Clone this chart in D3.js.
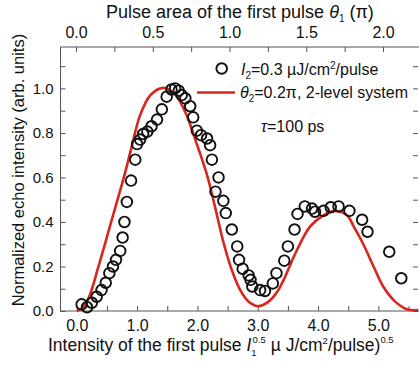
<!DOCTYPE html>
<html>
<head>
<meta charset="utf-8">
<script src="https://cdn.jsdelivr.net/npm/d3@7"></script>
<style>
  body { margin: 0; background: #fff; }
  svg { display: block; font-family: Arial, "Liberation Sans", sans-serif; }
  .ax path, .ax line { stroke: #555; }
  .ax text { fill: #111; }
</style>
</head>
<body>
<div id="chart"></div>
<script>
// measured echo intensity (circles)
var dataX = [0.08,0.17,0.25,0.33,0.41,0.48,0.54,0.60,0.65,0.72,0.76,0.79,0.83,0.90,0.97,1.00,1.05,1.10,1.17,1.24,1.33,1.41,1.49,1.57,1.63,1.69,1.74,1.80,1.88,1.93,1.99,2.06,2.16,2.21,2.24,2.30,2.35,2.43,2.47,2.57,2.66,2.69,2.75,2.85,2.88,2.91,3.04,3.12,3.25,3.31,3.44,3.50,3.61,3.66,3.78,3.90,3.95,4.09,4.21,4.34,4.52,4.73,4.82,5.18,5.38];
var dataY = [0.03,0.017,0.037,0.064,0.094,0.127,0.17,0.20,0.23,0.27,0.33,0.40,0.49,0.586,0.68,0.75,0.77,0.795,0.806,0.83,0.86,0.906,0.963,0.995,1.0,0.99,0.97,0.955,0.92,0.87,0.81,0.79,0.775,0.745,0.68,0.536,0.60,0.495,0.44,0.366,0.29,0.23,0.19,0.16,0.14,0.11,0.094,0.09,0.124,0.17,0.226,0.29,0.366,0.436,0.47,0.46,0.446,0.45,0.466,0.47,0.45,0.41,0.356,0.266,0.147];

// 2-level system calculation (red line)
var calcX = [0,0.1,0.2,0.36,0.57,0.78,0.89,1.05,1.22,1.38,1.49,1.66,1.82,1.99,2.16,2.29,2.43,2.57,2.71,2.85,3.01,3.18,3.32,3.43,3.65,3.87,4.09,4.28,4.48,4.59,4.75,4.92,5.08,5.28,5.47,5.66];
var calcY = [0,0.015,0.06,0.2,0.4,0.6,0.716,0.88,0.97,1.0,1.0,0.963,0.88,0.75,0.61,0.47,0.31,0.184,0.094,0.042,0.022,0.042,0.085,0.14,0.274,0.38,0.43,0.45,0.43,0.38,0.30,0.20,0.11,0.042,0.008,0.004];

var bottomTicks = [0,0.5,1,1.5,2,2.5,3,3.5,4,4.5,5,5.5];
var topTicks = [0,0.25,0.5,0.75,1,1.25,1.5,1.75,2];
var yTicks = [0,0.1,0.2,0.3,0.4,0.5,0.6,0.7,0.8,0.9,1.0,1.1];

var W = 419, H = 365;
var mLeft = 60.5, mRight = 420, mTop = 47, mBottom = 311;

var svg = d3.select('#chart').append('svg').attr('width', W).attr('height', H);

var x = d3.scaleLinear().domain([-0.27, 5.69]).range([mLeft, mRight]);
var xTop = d3.scaleLinear().domain([-0.101, 2.241]).range([mLeft, mRight]);
var y = d3.scaleLinear().domain([0, 1.186]).range([mBottom, mTop]);

// frame
svg.append('rect').attr('x', mLeft).attr('y', mTop).attr('width', mRight - mLeft).attr('height', mBottom - mTop)
  .attr('fill', 'none').attr('stroke', '#555').attr('stroke-width', 1);

// axes
svg.append('g').attr('class', 'ax').attr('transform', 'translate(0,' + mBottom + ')')
  .call(d3.axisBottom(x).tickValues(bottomTicks).tickSize(-5).tickPadding(9)
    .tickFormat(function(d){ return d % 1 == 0 ? d3.format('.1f')(d) : ''; }))
  .call(function(g){ g.select('.domain').remove(); g.selectAll('text').attr('font-size', 16).attr('dy', '0.71em'); });

svg.append('g').attr('class', 'ax').attr('transform', 'translate(0,' + mTop + ')')
  .call(d3.axisTop(xTop).tickValues(topTicks).tickSize(-5).tickPadding(9)
    .tickFormat(function(d){ return d % 0.5 == 0 ? d3.format('.1f')(d) : ''; }))
  .call(function(g){ g.select('.domain').remove(); g.selectAll('text').attr('font-size', 16); });

svg.append('g').attr('class', 'ax').attr('transform', 'translate(' + mLeft + ',0)')
  .call(d3.axisLeft(y).tickValues(yTicks).tickSize(-5).tickPadding(7)
    .tickFormat(function(d){ return Math.round(d * 10) % 2 == 0 ? d3.format('.1f')(d) : ''; }))
  .call(function(g){ g.select('.domain').remove(); g.selectAll('text').attr('font-size', 15); });

svg.append('g').attr('class', 'ax').attr('transform', 'translate(' + (mRight - 2) + ',0)')
  .call(d3.axisRight(y).tickValues(yTicks).tickSize(-5).tickFormat(''))
  .call(function(g){ g.select('.domain').remove(); });

// red calculation line
var pts = calcX.map(function(d, i){ return [d, calcY[i]]; });
svg.append('path').datum(pts)
  .attr('fill', 'none').attr('stroke', '#d9261c').attr('stroke-width', 2.6)
  .attr('d', d3.line().x(function(d){ return x(d[0]); }).y(function(d){ return y(d[1]); }).curve(d3.curveCatmullRom));

// measured circles
svg.append('g').selectAll('circle').data(dataX).join('circle')
  .attr('cx', function(d){ return x(d); })
  .attr('cy', function(d, i){ return y(dataY[i]); })
  .attr('r', 5.3).attr('fill', 'none').attr('stroke', '#111').attr('stroke-width', 1.9);

// legend
svg.append('circle').attr('cx', 221.7).attr('cy', 68.5).attr('r', 5.3)
  .attr('fill', 'none').attr('stroke', '#111').attr('stroke-width', 1.9);
var t1 = svg.append('text').attr('x', 241).attr('y', 75).attr('font-size', 16).attr('fill', '#111');
t1.append('tspan').attr('font-style', 'italic').text('I');
t1.append('tspan').attr('font-size', 10).attr('dy', 4).text('2');
t1.append('tspan').attr('dy', -4).text('=0.3 \u00b5J/cm');
t1.append('tspan').attr('font-size', 10).attr('dy', -6).text('2');
t1.append('tspan').attr('dy', 6).text('/pulse');

svg.append('line').attr('x1', 197).attr('x2', 235).attr('y1', 92.5).attr('y2', 92.5)
  .attr('stroke', '#d9261c').attr('stroke-width', 2.6);
var t2 = svg.append('text').attr('x', 240).attr('y', 98).attr('font-size', 16).attr('fill', '#111');
t2.append('tspan').attr('font-style', 'italic').text('\u03b8');
t2.append('tspan').attr('font-size', 10).attr('dy', 4).text('2');
t2.append('tspan').attr('dy', -4).text('=0.2\u03c0, 2-level system');

var t3 = svg.append('text').attr('x', 261).attr('y', 132).attr('font-size', 16).attr('fill', '#111');
t3.append('tspan').attr('font-style', 'italic').text('\u03c4');
t3.append('tspan').text('=100 ps');

// axis titles
var tt = svg.append('text').attr('x', 106).attr('y', 18).attr('font-size', 18).attr('fill', '#111');
tt.append('tspan').text('Pulse area of the first pulse ');
tt.append('tspan').attr('font-style', 'italic').text('\u03b8');
tt.append('tspan').attr('font-size', 10).attr('dy', 4).text('1');
tt.append('tspan').attr('dy', -4).text(' (\u03c0)');

var bt = svg.append('text').attr('x', 48).attr('y', 351).attr('font-size', 17.5).attr('fill', '#111');
bt.append('tspan').text('Intensity of the first pulse ');
bt.append('tspan').attr('font-style', 'italic').text('I');
bt.append('tspan').attr('font-size', 9.5).attr('dy', 5).text('1');
bt.append('tspan').attr('font-size', 9.5).attr('dx', -4).attr('dy', -13).text('0.5');
bt.append('tspan').attr('dy', 8).text('  \u00b5 J/cm');
bt.append('tspan').attr('font-size', 9.5).attr('dy', -7).text('2');
bt.append('tspan').attr('dy', 7).text('/pulse)');
bt.append('tspan').attr('font-size', 9.5).attr('dy', -8).text('0.5');

svg.append('text').attr('transform', 'translate(24,170) rotate(-90)')
  .attr('text-anchor', 'middle').attr('font-size', 16.5).attr('fill', '#111')
  .text('Normalized echo intensity (arb. units)');
</script>
</body>
</html>
